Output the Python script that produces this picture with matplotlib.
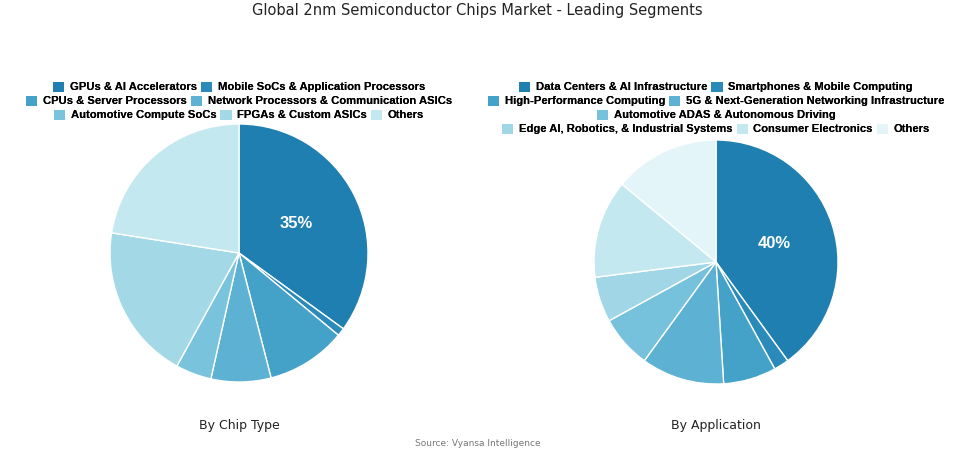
import matplotlib

matplotlib.use("agg")

import matplotlib.pyplot as plt
from matplotlib.patches import Patch

chip_labels = ["GPUs & AI Accelerators", "Mobile SoCs & Application Processors",
               "CPUs & Server Processors", "Network Processors & Communication ASICs",
               "Automotive Compute SoCs", "FPGAs & Custom ASICs", "Others"]
chip_values = [35, 1, 10, 7.5, 4.5, 19.5, 22.5]
chip_colors = ["#1e7fb0", "#2a8aba", "#44a1c8", "#5db1d2", "#7ac3dd", "#a3d8e6", "#c4e8ef"]
chip_rows = [[0, 1], [2, 3], [4, 5, 6]]

app_labels = ["Data Centers & AI Infrastructure", "Smartphones & Mobile Computing",
              "High-Performance Computing", "5G & Next-Generation Networking Infrastructure",
              "Automotive ADAS & Autonomous Driving", "Edge AI, Robotics, & Industrial Systems",
              "Consumer Electronics", "Others"]
app_values = [40, 2, 7, 11, 7, 6, 13, 14]
app_colors = ["#1e7fb0", "#2a8aba", "#44a1c8", "#5db1d2", "#76c1dc", "#a0d6e5", "#c4e8ef", "#e4f5f9"]
app_rows = [[0, 1], [2, 3], [4], [5, 6, 7]]

W, H = 955, 454


def first_only(values):
    state = {"i": 0}

    def fmt(pct):
        i = state["i"]
        state["i"] += 1
        return "%d%%" % round(values[i]) if i == 0 else ""
    return fmt


def draw_pie(fig, cx, cy, r, values, colors, labels, rows, legend_top, subtitle):
    ax = fig.add_axes(((cx - r) / W, (H - cy - r) / H, 2 * r / W, 2 * r / H))
    wedges, _, autotexts = ax.pie(values, colors=colors, startangle=90, counterclock=False,
                                  autopct=first_only(values), pctdistance=0.5,
                                  wedgeprops=dict(edgecolor="white", linewidth=1))
    for t in autotexts:
        t.set_color("white")
        t.set_fontsize(12)
        t.set_fontweight("bold")
        t.set_family("Liberation Sans")
    ax.set_xlim(-1, 1)
    ax.set_ylim(-1, 1)
    ax.axis("off")

    # one legend per row so each row is centred on its own
    for k, row in enumerate(rows):
        handles = [Patch(facecolor=colors[i], edgecolor="none") for i in row]
        leg = fig.legend(handles, [labels[i] for i in row], ncol=len(row), frameon=False,
                         loc="center", bbox_to_anchor=(cx / W, 1 - (legend_top + 14 * k) / H),
                         prop={"family": "Liberation Sans", "weight": "bold", "size": 8.1},
                         handlelength=1.0, handleheight=1.0, handletextpad=0.5,
                         columnspacing=0.35, borderpad=0, borderaxespad=0)
        fig.add_artist(leg)

    fig.text(cx / W, 1 - 425 / H, subtitle, ha="center", va="center", fontsize=9, color="#222222")


def main():
    fig = plt.figure(figsize=(W / 100, H / 100), dpi=100)
    fig.text(0.5, 1 - 10 / H, "Global 2nm Semiconductor Chips Market - Leading Segments",
             ha="center", va="center", fontsize=10.5, color="#222222")

    draw_pie(fig, 239, 253, 129, chip_values, chip_colors, chip_labels, chip_rows, 87, "By Chip Type")
    draw_pie(fig, 716, 262, 122, app_values, app_colors, app_labels, app_rows, 87, "By Application")

    fig.text(0.5, 1 - 444 / H, "Source: Vyansa Intelligence", ha="center", va="center",
             fontsize=6.5, color="#777777")

    fig.savefig("out.png", dpi=100)


if __name__ == "__main__":
    main()
